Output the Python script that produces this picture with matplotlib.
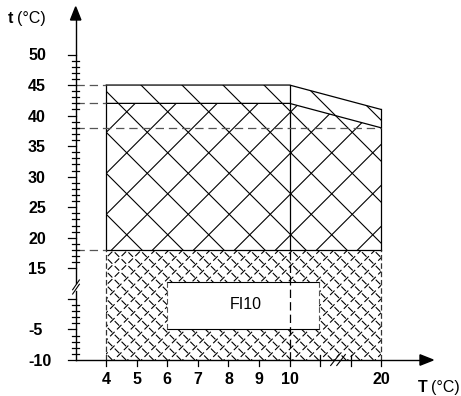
import numpy as np
import matplotlib.pyplot as plt
from matplotlib.patches import Polygon

plt.rcParams['font.family'] = ['Liberation Sans', 'DejaVu Sans']
plt.rcParams['lines.scale_dashes'] = False

# axis ticks
t_labels = [-10, -5, 15, 20, 25, 30, 35, 40, 45, 50]
t_minor = [-9, -8, -7, -6, -4, -3, -2, -1] + [v for v in range(16, 50) if v % 5]
t_unlabeled = [0]
T_labels = [4, 5, 6, 7, 8, 9, 10, 20]
T_minor = [13.3, 16.7]

# envelope (T = 4, 10, 20)
T_pts = [4, 10, 20]
t_top = [45, 45, 41]
t_mid = [42, 42, 38]
t_low = 18
t_min = -10
box_T = [6, 13.2]
box_t = [-5, 8.5]
box_label = 'FI10'

S = 30.55  # px per unit
FS = 11.5


def fx(T):
    return T - 3 if T <= 10 else 7 + (T - 10) * 0.3


def fy(t):
    if t >= 15:
        return 3 + (t - 15) / 5
    if t <= 0:
        return (t + 10) / 5
    return 2 + t / 15


def P(T, t):
    return (fx(T), fy(t))


fig = plt.figure(figsize=(4.61, 3.96), dpi=100)
ax = fig.add_axes([0, 0, 1, 1])
ax.set_xlim(-75.7 / S, (461 - 75.7) / S)
ax.set_ylim((360 - 396) / S, 360 / S)
ax.axis('off')


def hatch(poly, spacing, slope, through, **kw):
    patch = Polygon(poly, closed=True, fill=False, edgecolor='none')
    ax.add_patch(patch)
    c0 = through[1] - slope * through[0]
    xs = np.array([-3.0, 14.0])
    for k in range(-80, 80):
        ln, = ax.plot(xs, slope * xs + c0 + k * spacing, **kw)
        ln.set_clip_path(patch)


# lower dense region
low_poly = [P(4, t_min), P(4, t_low), P(20, t_low), P(20, t_min)]
kw_d = dict(color='black', lw=0.8, ls=(1.2, (4.6, 2.4)), zorder=1)
hatch(low_poly, 0.45, 1, (1, 0.2), **kw_d)
hatch(low_poly, 0.45, -1, (1, 0.2), **kw_d)

# upper regions
up_poly = [P(4, t_low), P(4, t_top[0]), P(10, t_top[1]), P(20, t_top[2]), P(20, t_low)]
mid_poly = [P(4, t_low), P(4, t_mid[0]), P(10, t_mid[1]), P(20, t_mid[2]), P(20, t_low)]
kw_u = dict(color='black', lw=0.8, zorder=1)
ph = (fx(4), (360 - 173.3) / S)
hatch(up_poly, 1.342, -1, ph, **kw_u)
hatch(mid_poly, 1.342, 1, ph, **kw_u)

# white box
bx = [fx(box_T[0]), fx(box_T[1])]
by = [fy(box_t[0]), fy(box_t[1])]
ax.add_patch(Polygon([(bx[0], by[0]), (bx[0], by[1]), (bx[1], by[1]), (bx[1], by[0])],
                     closed=True, facecolor='white', edgecolor='none', zorder=2))
ax.plot(bx, [by[0], by[0]], color='black', lw=0.8, zorder=3)
ax.plot(bx, [by[1], by[1]], color='black', lw=0.8, zorder=3)
for x in bx:
    ax.plot([x, x], by, color='#555555', lw=0.8, ls=(0, (4, 2)), zorder=3)
ax.text((bx[0] + bx[1]) / 2 + 0.08, (by[0] + by[1]) / 2 + 0.04, box_label,
        ha='center', va='center', fontsize=FS, zorder=4)

# outlines
lw = 0.9
ax.plot([fx(4)] * 2, [fy(t_low), fy(t_top[0])], color='black', lw=lw, zorder=3)
ax.plot([fx(10)] * 2, [fy(t_low), fy(t_top[1])], color='black', lw=lw, zorder=3)
ax.plot([fx(20)] * 2, [fy(t_low), fy(t_top[2])], color='black', lw=lw, zorder=3)
ax.plot([fx(T) for T in T_pts], [fy(t) for t in t_top], color='black', lw=lw, zorder=3)
ax.plot([fx(T) for T in T_pts], [fy(t) for t in t_mid], color='black', lw=lw, zorder=3)
ax.plot([fx(4), fx(20)], [fy(t_low)] * 2, color='black', lw=lw, zorder=3)

# dashed guide lines
kw_g = dict(color='#555555', lw=0.9, ls=(0, (6, 3.5)), zorder=3)
ax.plot([0, fx(4)], [fy(45)] * 2, **kw_g)
ax.plot([0, fx(4)], [fy(42)] * 2, **kw_g)
ax.plot([0, fx(20)], [fy(38)] * 2, **kw_g)
ax.plot([0, fx(4)], [fy(18)] * 2, **kw_g)
ax.plot([fx(4)] * 2, [fy(t_min), fy(t_low)], color='#333333', lw=0.9, ls=(0, (4, 2)), zorder=3)
ax.plot([fx(20)] * 2, [fy(t_min), fy(t_low)], color='#333333', lw=0.9, ls=(0, (4, 2)), zorder=3)
ax.plot([fx(10)] * 2, [fy(t_min), fy(t_low)], color='black', lw=0.9, ls=(0, (6, 3)), zorder=3)

# y axis with break
yb = (360 - 287) / S
ax.plot([0, 0], [0, yb - 0.12], color='black', lw=1.0, zorder=5)
ax.plot([0, 0], [yb + 0.12, 11.2], color='black', lw=1.0, zorder=5)
for d in (-0.07, 0.07):
    ax.plot([-0.1, 0.12], [yb - 0.16 + d, yb + 0.16 + d], color='black', lw=0.8, zorder=5)
ax.add_patch(Polygon([(-0.17, 11.13), (0.17, 11.13), (0, 11.56)], closed=True,
                     facecolor='black', edgecolor='black', zorder=5))
for t in t_labels + t_unlabeled:
    ax.plot([-0.24, 0], [fy(t)] * 2, color='black', lw=0.9, zorder=5)
for t in t_minor:
    ax.plot([-0.12, 0.12], [fy(t)] * 2, color='black', lw=0.9, zorder=5)
for t in t_labels:
    ax.text(-1.561, fy(t), str(t), ha='left', va='center_baseline',
            fontsize=FS, fontweight='bold')

# x axis with break
xb = (338 - 75.7) / S
ax.plot([0, 11.3], [0, 0], color='black', lw=1.0, zorder=5)
for d in (-0.1, 0.1):
    ax.plot([xb - 0.14 + d, xb + 0.14 + d], [-0.18, 0.18], color='black', lw=0.8, zorder=5)
ax.add_patch(Polygon([(11.27, -0.17), (11.27, 0.17), (11.7, 0)], closed=True,
                     facecolor='black', edgecolor='black', zorder=5))
for T in T_labels:
    ax.plot([fx(T)] * 2, [-0.2, 0], color='black', lw=0.9, zorder=5)
    ax.text(fx(T), (360 - 378) / S, str(T), ha='center', va='center_baseline',
            fontsize=FS, fontweight='bold')
for T in T_minor:
    ax.plot([fx(T)] * 2, [-0.2, 0.15], color='black', lw=0.9, zorder=5)

# axis titles
ax.text(-2.216, (360 - 17) / S, 't', ha='left', va='center_baseline', fontsize=FS, fontweight='bold')
ax.text(-1.92, (360 - 17) / S, '(°C)', ha='left', va='center_baseline', fontsize=FS)
ax.text((418 - 75.7) / S, (360 - 386) / S, 'T', ha='left', va='center_baseline', fontsize=FS, fontweight='bold')
ax.text((431 - 75.7) / S, (360 - 386) / S, '(°C)', ha='left', va='center_baseline', fontsize=FS)

fig.savefig('out.png', dpi=100)
